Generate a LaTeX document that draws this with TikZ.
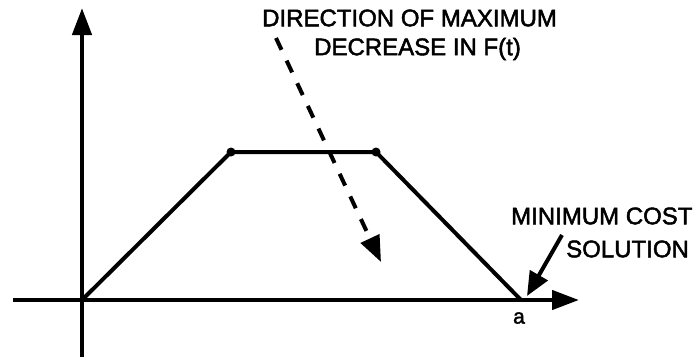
\documentclass[tikz,border=0pt]{standalone}
\usepackage{fontspec}
\setmainfont{Liberation Sans}
\newfontfamily\lblfont[RawFeature={embolden=2}]{Liberation Sans}
\usetikzlibrary{arrows.meta}
\begin{document}
\begin{tikzpicture}[x=1pt,y=-1pt,
  axis/.style={line width=4.5pt,-{Triangle[length=27pt,width=19pt]}},
  curve/.style={line width=4pt,line join=round},
  lbl/.style={font=\lblfont\fontsize{24}{26}\selectfont,inner sep=0pt,anchor=west},
  dot/.style={circle,fill=black,inner sep=0pt,minimum size=9pt}]
\useasboundingbox (0,0) rectangle (697,357);
\coordinate (o) at (82,300);
\coordinate (ytop) at (82,8);
\coordinate (ybot) at (82,357);
\coordinate (xl) at (13,300);
\coordinate (xr) at (579,300);
\node[dot] (p1) at (231,152) {};
\node[dot] (p2) at (376,152) {};
\coordinate (a) at (521,300);
\draw[axis] (ybot) -- (ytop);
\draw[axis] (xl) -- (xr);
\draw[curve] (o) -- (p1.center) -- (p2.center) -- (a);
\node[lbl] (t1) at (262,18) {DIRECTION OF MAXIMUM};
\node[lbl] (t2) at (314,49) {DECREASE IN F(t)};
\coordinate (ds) at (276,38);
\coordinate (de) at (381,262);
\draw[line width=4pt,dash pattern=on 13pt off 12pt,-{Triangle[length=26pt,width=20pt]}] (ds) -- (de);
\node[lbl] (t3) at (511,216) {MINIMUM COST};
\node[lbl] (t4) at (566,249) {SOLUTION};
\coordinate (ms) at (562,235);
\draw[line width=4pt,-{Triangle[length=24pt,width=20pt]}] (ms) -- (527,296);
\node[font=\lblfont\fontsize{21}{22}\selectfont,inner sep=0pt] (la) at (519,318) {a};
\end{tikzpicture}
\end{document}
